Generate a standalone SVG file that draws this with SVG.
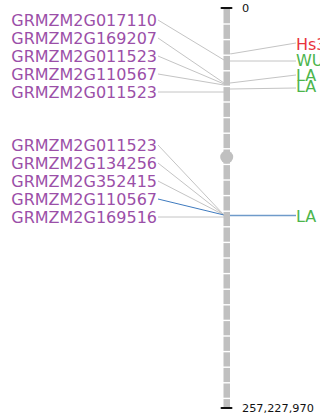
<svg xmlns="http://www.w3.org/2000/svg" width="320" height="417" viewBox="0 0 320 417">
  <style>
    .gene { font-family: "DejaVu Sans", Verdana, sans-serif; font-size: 16px; fill: #9b4fa8; text-anchor: end; }
    .trait { font-family: "DejaVu Sans", Verdana, sans-serif; font-size: 16px; }
    .red { fill: #e8323c; }
    .green { fill: #4cb54c; }
    .pos { font-family: "DejaVu Sans", Verdana, sans-serif; font-size: 11.3px; fill: #111; }
    .link { stroke: #c4c4c4; stroke-width: 1; fill: none; }
    .blue { stroke: #3f7bbf; stroke-width: 1; fill: none; }
    .blue2 { stroke: #6f9bca; stroke-width: 1.5; fill: none; }
    .band { stroke: #ffffff; stroke-width: 1.4; }
  </style>

  <!-- connectors -->
  <g id="connectors">
    <line class="link" x1="158" y1="20" x2="224" y2="60"/>
    <line class="link" x1="158" y1="38" x2="224" y2="83"/>
    <line class="link" x1="158" y1="56" x2="224" y2="84"/>
    <line class="link" x1="158" y1="74" x2="224" y2="85"/>
    <line class="link" x1="158" y1="92" x2="224" y2="92"/>
    <line class="link" x1="230" y1="54" x2="296" y2="43"/>
    <line class="link" x1="230" y1="61" x2="296" y2="61"/>
    <line class="link" x1="230" y1="83" x2="296" y2="75"/>
    <line class="link" x1="230" y1="89" x2="296" y2="88"/>

    <line class="link" x1="158" y1="145" x2="224" y2="215"/>
    <line class="link" x1="158" y1="163" x2="224" y2="215"/>
    <line class="link" x1="158" y1="181" x2="224" y2="215"/>
    <line class="blue" x1="158" y1="199" x2="224" y2="215"/>
    <line class="link" x1="158" y1="217" x2="224" y2="217"/>
    <line class="blue2" x1="230" y1="215.5" x2="296" y2="215.5"/>
  </g>

  <!-- chromosome -->
  <g id="chromosome">
    <rect x="223.5" y="8" width="6.5" height="400" fill="#c0c0c0"/>
    <g class="band">
      <line x1="223" x2="231" y1="24" y2="24"/>
      <line x1="223" x2="231" y1="39.6" y2="39.6"/>
      <line x1="223" x2="231" y1="55.2" y2="55.2"/>
      <line x1="223" x2="231" y1="70.8" y2="70.8"/>
      <line x1="223" x2="231" y1="86.4" y2="86.4"/>
      <line x1="223" x2="231" y1="102" y2="102"/>
      <line x1="223" x2="231" y1="117.6" y2="117.6"/>
      <line x1="223" x2="231" y1="133.2" y2="133.2"/>
      <line x1="223" x2="231" y1="148.8" y2="148.8"/>
      <line x1="223" x2="231" y1="164.4" y2="164.4"/>
      <line x1="223" x2="231" y1="180" y2="180"/>
      <line x1="223" x2="231" y1="195.6" y2="195.6"/>
      <line x1="223" x2="231" y1="211.2" y2="211.2"/>
      <line x1="223" x2="231" y1="226.8" y2="226.8"/>
      <line x1="223" x2="231" y1="242.4" y2="242.4"/>
      <line x1="223" x2="231" y1="258" y2="258"/>
      <line x1="223" x2="231" y1="273.6" y2="273.6"/>
      <line x1="223" x2="231" y1="289.2" y2="289.2"/>
      <line x1="223" x2="231" y1="304.8" y2="304.8"/>
      <line x1="223" x2="231" y1="320.4" y2="320.4"/>
      <line x1="223" x2="231" y1="336" y2="336"/>
      <line x1="223" x2="231" y1="351.6" y2="351.6"/>
      <line x1="223" x2="231" y1="367.2" y2="367.2"/>
      <line x1="223" x2="231" y1="382.8" y2="382.8"/>
      <line x1="223" x2="231" y1="398.4" y2="398.4"/>
    </g>
    <!-- centromere -->
    <circle cx="226.7" cy="157" r="6.5" fill="#c0c0c0"/>
    <!-- end ticks -->
    <line x1="221.5" y1="8" x2="231.5" y2="8" stroke="#111" stroke-width="2" stroke-linecap="round"/>
    <line x1="221.5" y1="408" x2="231.5" y2="408" stroke="#111" stroke-width="2" stroke-linecap="round"/>
    <text class="pos" x="242" y="12">0</text>
    <text class="pos" x="242" y="412">257,227,970</text>
  </g>

  <!-- gene labels -->
  <g id="gene-GRMZM2G017110"><text class="gene" x="157" y="25.5">GRMZM2G017110</text></g>
  <g id="gene-GRMZM2G169207"><text class="gene" x="157" y="43.5">GRMZM2G169207</text></g>
  <g id="gene-GRMZM2G011523-a"><text class="gene" x="157" y="61.5">GRMZM2G011523</text></g>
  <g id="gene-GRMZM2G110567-a"><text class="gene" x="157" y="79.5">GRMZM2G110567</text></g>
  <g id="gene-GRMZM2G011523-b"><text class="gene" x="157" y="97.5">GRMZM2G011523</text></g>

  <g id="gene-GRMZM2G011523-c"><text class="gene" x="157" y="151">GRMZM2G011523</text></g>
  <g id="gene-GRMZM2G134256"><text class="gene" x="157" y="169">GRMZM2G134256</text></g>
  <g id="gene-GRMZM2G352415"><text class="gene" x="157" y="187">GRMZM2G352415</text></g>
  <g id="gene-GRMZM2G110567-b"><text class="gene" x="157" y="205">GRMZM2G110567</text></g>
  <g id="gene-GRMZM2G169516"><text class="gene" x="157" y="222.5">GRMZM2G169516</text></g>

  <!-- trait labels -->
  <g id="trait-Hs3"><text class="trait red" x="296" y="49.5">Hs3</text></g>
  <g id="trait-WU"><text class="trait green" x="296" y="65.5">WU</text></g>
  <g id="trait-LA-1"><text class="trait green" x="296" y="80.5">LA</text></g>
  <g id="trait-LA-2"><text class="trait green" x="296" y="92">LA</text></g>
  <g id="trait-LA-3"><text class="trait green" x="296" y="221.5">LA</text></g>
</svg>
